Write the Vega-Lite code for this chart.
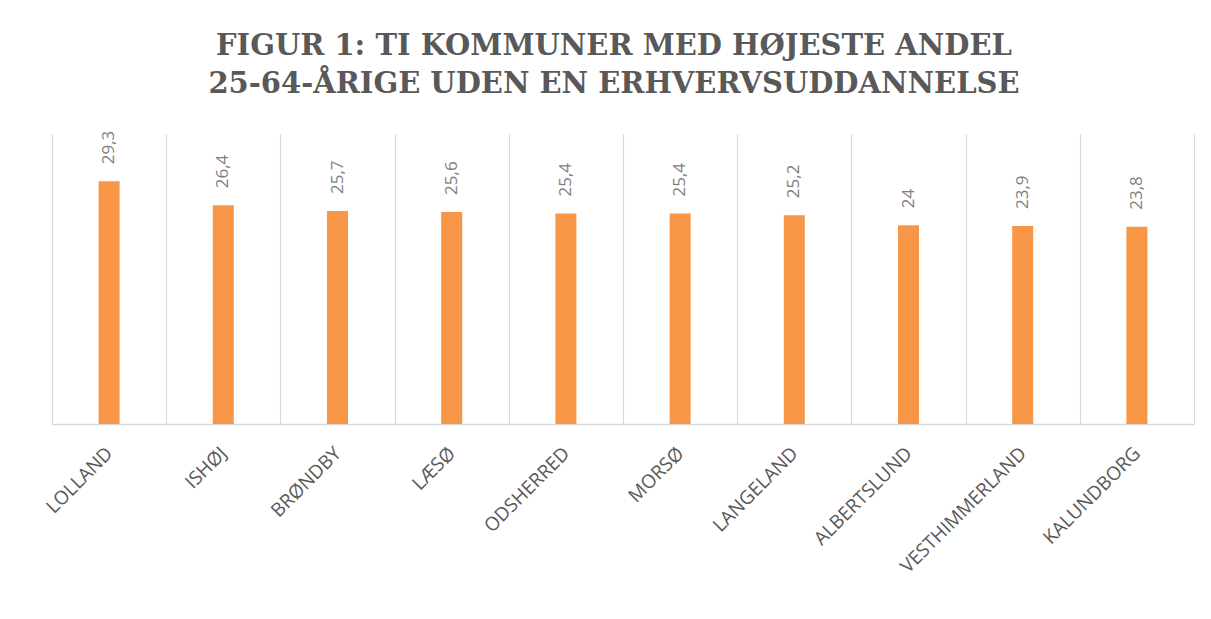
{
  "$schema": "https://vega.github.io/schema/vega-lite/v6.json",
  "width": 1142,
  "height": 290,
  "autosize": {"type": "none"},
  "padding": {"left": 52, "top": 134, "right": 17, "bottom": 195},
  "background": "white",
  "config": {
    "view": {"stroke": null},
    "locale": {"number": {"decimal": ",", "thousands": ".", "grouping": [3], "currency": ["", " kr."]}}
  },
  "title": {
    "text": ["FIGUR 1: TI KOMMUNER MED HØJESTE ANDEL", "25-64-ÅRIGE UDEN EN ERHVERVSUDDANNELSE"],
    "font": "DejaVu Serif",
    "fontWeight": "bold",
    "fontSize": 29,
    "color": "#595959",
    "lineHeight": 38,
    "baseline": "bottom",
    "anchor": "middle",
    "offset": 3,
    "dx": -9
  },
  "data": {
    "values": [
      {"kommune": "LOLLAND", "andel": 29.3},
      {"kommune": "ISHØJ", "andel": 26.4},
      {"kommune": "BRØNDBY", "andel": 25.7},
      {"kommune": "LÆSØ", "andel": 25.6},
      {"kommune": "ODSHERRED", "andel": 25.4},
      {"kommune": "MORSØ", "andel": 25.4},
      {"kommune": "LANGELAND", "andel": 25.2},
      {"kommune": "ALBERTSLUND", "andel": 24},
      {"kommune": "VESTHIMMERLAND", "andel": 23.9},
      {"kommune": "KALUNDBORG", "andel": 23.8}
    ]
  },
  "encoding": {
    "x": {
      "field": "kommune",
      "type": "nominal",
      "sort": null,
      "title": null,
      "scale": {"paddingInner": 0, "paddingOuter": 0},
      "axis": {
        "labelAngle": -45,
        "labelAlign": "right",
        "labelBaseline": "middle",
        "labelFont": "Open Sans",
        "labelFontSize": 19,
        "labelColor": "#595959",
        "labelPadding": 26,
        "ticks": false,
        "domainColor": "#d9d9d9",
        "domainWidth": 1.5,
        "grid": true,
        "gridColor": "#d9d9d9",
        "gridWidth": 1.2,
        "tickBand": "extent"
      }
    },
    "y": {
      "field": "andel",
      "type": "quantitative",
      "scale": {"domain": [0, 35]},
      "axis": null
    }
  },
  "layer": [
    {
      "mark": {"type": "bar", "color": "#F79646", "width": {"band": 0.184}}
    },
    {
      "mark": {
        "type": "text",
        "angle": 270,
        "align": "left",
        "baseline": "middle",
        "dx": 17,
        "font": "Open Sans",
        "fontSize": 17,
        "color": "#7f7f7f"
      },
      "encoding": {
        "text": {"field": "andel", "type": "quantitative", "format": ".1~f"}
      }
    }
  ]
}
